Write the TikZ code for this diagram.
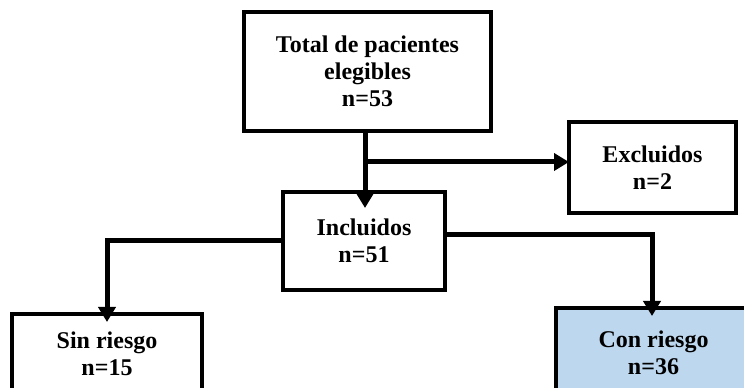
\documentclass[tikz,border=0pt]{standalone}
\usepackage{fontspec}
\setmainfont{Liberation Serif}
\usetikzlibrary{arrows.meta}
\definecolor{riskblue}{RGB}{189,215,238}
\begin{document}
\begin{tikzpicture}[x=1pt, y=1pt,
    every node/.style={font=\fontsize{24}{27}\selectfont\bfseries, align=center},
    box/.style={draw, line width=4pt, inner sep=0pt, outer sep=0pt},
    flow/.style={line width=5pt, -{Triangle[length=15pt,width=17pt]}}]
      \useasboundingbox (0,0) rectangle (744,388);
      \clip (0,0) rectangle (744,388);

      % Boxes
      \node[box, minimum width=247, minimum height=119] (total) at (367.5,316.5)
            {Total de pacientes\\elegibles\\n=53};
      \node[box, minimum width=167, minimum height=91] (excl) at (652.5,220.5)
            {Excluidos\\n=2};
      \node[box, minimum width=162, minimum height=98] (incl) at (364,147)
            {Incluidos\\n=51};
      \node[box, minimum width=190, minimum height=80] (sin) at (107,34)
            {Sin riesgo\\n=15};
      \node[box, fill=riskblue, minimum width=195, minimum height=90] (con) at (653.5,35)
            {Con riesgo\\n=36};

      % Arrows
      \coordinate (split) at (365,226);
      \draw[flow, shorten >=-16pt] (365,257) -- (incl.north -| split);
      \draw[flow] (split) -- (split -| excl.west);
      \draw[flow, shorten >=-8pt] (incl.west) -| (sin.north);
      \draw[flow, shorten >=-8pt] ([yshift=6pt]incl.east) -| ([xshift=-1.5pt]con.north);
    \end{tikzpicture}
\end{document}
